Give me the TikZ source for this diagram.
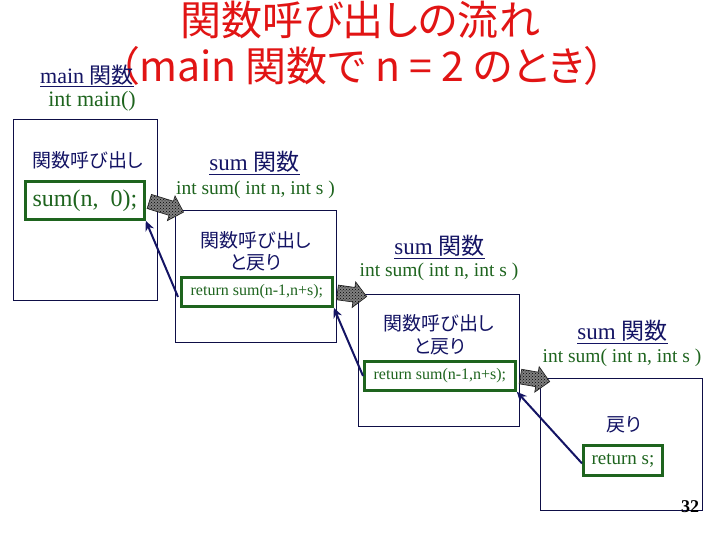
\documentclass[tikz,border=0pt]{standalone}
\usepackage{fontspec}
\setmainfont{Liberation Serif}
\newfontfamily\jp[RawFeature=+palt]{Noto Sans CJK JP}
\usetikzlibrary{calc,shapes.arrows,arrows.meta,patterns}
\definecolor{navy}{RGB}{20,20,100}
\definecolor{dgreen}{RGB}{30,100,30}
\definecolor{tred}{RGB}{225,20,20}
\newcommand{\fsz}[1]{\fontsize{#1}{#1}\selectfont}
\newcommand{\blkarrow}[3]{\path let \p1=(#2), \p2=(#3), \n1={atan2(\y2-\y1,\x2-\x1)}, \n2={veclen(\x2-\x1,\y2-\y1)} in node[blockarrow, minimum height=\n2, rotate=\n1] (#1) at ($(\p1)!0.5!(\p2)$) {};}
\begin{document}
\begin{tikzpicture}[x=1pt,y=-1pt,
  bigbox/.style={draw=navy!70!black, line width=0.8pt, inner sep=0pt, anchor=north west, fill=white},
  gbox/.style={draw=dgreen, line width=2.8pt, inner sep=0pt, anchor=north west, text=dgreen},
  jtxt/.style={inner sep=0pt, text=navy, font=\jp\fsz{19}},
  hdr/.style={inner sep=0pt, text=navy, font=\fsz{23}},
  sig/.style={inner sep=0pt, text=dgreen, font=\fsz{19.5}},
  title/.style={inner sep=0pt, text=tred, font=\jp\fsz{41}},
  blockarrow/.style={single arrow, draw=black!85, line width=0.7pt,
    preaction={fill=black!50}, pattern=crosshatch dots, pattern color=black,
    inner xsep=0pt, inner ysep=7pt, single arrow head extend=5.5pt,
    single arrow tip angle=90, anchor=center},
  ret/.style={draw=navy, line width=2pt, -{Stealth[length=10pt,width=9pt]}}]
\useasboundingbox (0,0) rectangle (720,540);

% title
\node[title] (t1) at (360,20) {関数呼び出しの流れ};
\node[title] (t2) at (362,66) {（main 関数で n = 2 のとき）};

% main
\node[inner sep=0pt, text=navy, font=\fsz{22}, anchor=west] (mainlbl) at (40,76) {\underline{main {\jp 関数}}};
\node[inner sep=0pt, text=dgreen, font=\fsz{22}] (intmain) at (92,101) {int main()};

% boxes
\node[bigbox, minimum width=144pt, minimum height=181pt] (b1) at (13,119) {};
\node[bigbox, minimum width=161pt, minimum height=132pt] (b2) at (175,210) {};
\node[bigbox, minimum width=161pt, minimum height=132pt] (b3) at (358,294) {};
\node[bigbox, minimum width=162pt, minimum height=132pt] (b4) at (540,378) {};

% box texts
\node[jtxt] (c1) at (88,160) {関数呼び出し};
\node[jtxt] (c2) at (256,240) {関数呼び出し};
\node[jtxt] (r2) at (256,263) {と戻り};
\node[jtxt] (c3) at (439,323) {関数呼び出し};
\node[jtxt] (r3) at (440,347) {と戻り};
\node[jtxt] (r4) at (624,425) {戻り};

% green boxes
\node[gbox, minimum width=119pt, minimum height=38pt] (g1) at (24,180) {};
\node[inner sep=0pt, text=dgreen, font=\fsz{24}] (g1t) at (g1.center) {sum(n,\ \ 0);};
\node[gbox, minimum width=151pt, minimum height=29pt] (g2) at (180,276) {};
\node[inner sep=0pt, text=dgreen, font=\fsz{16}] (g2t) at (g2.center) {return sum(n-1,n+s);};
\node[gbox, minimum width=151pt, minimum height=29pt] (g3) at (363,360) {};
\node[inner sep=0pt, text=dgreen, font=\fsz{16}] (g3t) at (g3.center) {return sum(n-1,n+s);};
\node[gbox, minimum width=79pt, minimum height=30pt] (g4) at (582,444) {};
\node[inner sep=0pt, text=dgreen, font=\fsz{19}] (g4t) at (g4.center) {return s;};

% headers
\node[hdr] (h2) at (254.5,163) {\underline{sum {\jp 関数}}};
\node[sig] (s2) at (255.5,190) {int sum( int n, int s )};
\node[hdr] (h3) at (439.5,247) {\underline{sum {\jp 関数}}};
\node[sig] (s3) at (439,272) {int sum( int n, int s )};
\node[hdr] (h4) at (622.5,332) {\underline{sum {\jp 関数}}};
\node[sig] (s4) at (622,358) {int sum( int n, int s )};

% page number
\node[inner sep=0pt, font=\bfseries\fsz{18}] (pg) at (690,507) {32};

% call arrows
\coordinate (e1) at ($(b2.north west)+(5,1)$);
\coordinate (e2) at ($(b3.north west)+(5,2)$);
\coordinate (e3) at ($(b4.north west)+(6,3)$);
\blkarrow{a1}{g1.east}{e1}
\blkarrow{a2}{g2.east}{e2}
\blkarrow{a3}{g3.east}{e3}

% return arrows
\draw[ret] ($(g2.west)+(-2,5)$) -- (g1.south east);
\draw[ret] (g3.west) -- (g2.south east);
\draw[ret] ($(g4.west)+(0,3)$) -- (g3.south east);
\end{tikzpicture}
\end{document}
